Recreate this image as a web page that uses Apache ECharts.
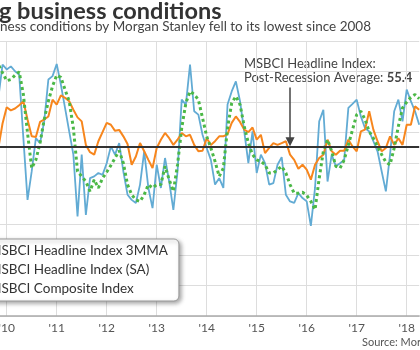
<!DOCTYPE html>
<html>
<head>
<meta charset="utf-8">
<script src="https://cdn.jsdelivr.net/npm/echarts@6/dist/echarts.min.js"></script>
<style>
  html, body { margin: 0; padding: 0; background: #fff; }
  #chart { width: 420px; height: 350px; }
</style>
</head>
<body>
<div id="chart"></div>
<script>
// monthly data, Oct 2009 .. Apr 2018
var firstYear = 2009, firstMonth = 10;

var headlineSA = [
  80.7, 71.4, 82.3, 80.7, 81.7, 80.1, 79.0, 58.2, 38.0, 47.3, 58.2, 56.6, 63.7,
  77.4, 78.5, 82.5, 75.7, 68.1, 60.4, 52.8, 32.6, 52.8, 33.1, 45.1, 45.7, 46.8,
  46.2, 50.0, 55.5, 52.8, 56.6, 47.3, 39.7, 38.0, 37.0, 43.0, 53.9, 41.9, 35.3,
  49.5, 41.9, 51.7, 44.0, 34.7, 47.3, 70.8, 69.2, 82.3, 67.0, 65.9, 59.3, 55.0,
  51.1, 43.0, 45.1, 41.9, 69.2, 73.5, 76.8, 70.3, 60.5, 50.0, 60.4, 46.8, 52.8,
  50.0, 43.0, 43.5, 49.5, 52.0, 39.7, 37.5, 37.0, 40.2, 38.6, 37.5, 29.5, 41.9,
  63.7, 67.5, 44.0, 52.8, 49.0, 50.0, 51.1, 68.1, 69.4, 70.8, 65.3, 61.5, 60.4,
  57.2, 53.9, 47.3, 40.8, 52.8, 67.0, 70.8, 63.7, 74.1, 70.3, 67.0, 62.6
];

var composite = [
  52.0, 55.0, 63.0, 68.3, 67.3, 67.9, 69.0, 70.3, 64.3, 58.8, 58.6, 63.5, 64.3,
  65.3, 70.8, 69.2, 72.2, 71.4, 70.3, 67.5, 65.0, 63.7, 56.0, 53.6, 52.8, 57.2,
  60.2, 63.2, 62.6, 60.6, 60.9, 58.8, 56.3, 49.5, 52.2, 56.6, 53.9, 51.1, 48.4,
  55.0, 57.7, 59.9, 58.2, 56.0, 57.7, 59.9, 58.8, 59.3, 56.0, 53.9, 54.1, 58.2,
  56.0, 57.2, 58.8, 58.8, 59.5, 63.2, 65.3, 63.5, 61.0, 60.2, 61.7, 57.7, 59.3,
  53.3, 55.0, 56.6, 56.0, 56.6, 57.2, 52.8, 51.1, 48.2, 49.5, 47.9, 44.6, 49.5,
  51.7, 52.8, 57.7, 53.9, 52.8, 54.1, 54.1, 57.7, 55.5, 53.9, 60.4, 61.0, 67.0,
  61.0, 57.2, 53.9, 55.0, 58.8, 56.0, 58.2, 56.0, 62.6, 62.6, 68.6, 67.5
];

var headline3MMA = [
  83.0, 82.3, 79.6, 77.0, 77.4, 78.8, 79.9, 72.5, 59.9, 48.4, 51.1, 56.6, 64.3,
  70.3, 75.2, 78.8, 78.1, 74.1, 70.3, 61.5, 47.3, 45.7, 44.0, 40.8, 44.6, 41.9,
  45.1, 47.1, 49.3, 51.7, 54.1, 50.0, 43.0, 39.7, 38.0, 37.5, 39.7, 43.0, 41.9,
  43.0, 43.0, 49.0, 44.6, 40.8, 49.5, 61.5, 69.7, 73.5, 72.5, 70.8, 64.8, 58.8,
  55.0, 50.6, 45.7, 48.4, 61.5, 69.7, 71.9, 69.2, 62.1, 56.6, 52.8, 51.1, 50.6,
  49.5, 46.8, 46.8, 47.9, 49.0, 46.8, 43.0, 40.2, 40.2, 40.5, 39.5, 37.5, 34.8,
  45.1, 53.9, 57.7, 53.9, 49.0, 48.4, 51.1, 56.0, 61.0, 65.9, 67.0, 64.3, 60.4,
  58.2, 55.5, 52.8, 50.4, 49.5, 55.0, 62.1, 68.1, 70.0, 71.6, 72.5, 71.1
];

var yearTicks = ['2010-01', '2011-01', '2012-01', '2013-01', '2014-01', '2015-01', '2016-01', '2017-01', '2018-01'];
var yearLabels = ["'10", "'11", "'12", "'13", "'14", "'15", "'16", "'17", "'18"];

var postRecessionAvg = 55.4;
var arrowMonth = '2015-09';

var months = [];
for (var i = 0; i < headlineSA.length; i++) {
  var y = firstYear + Math.floor((firstMonth - 1 + i) / 12);
  var m = (firstMonth - 1 + i) % 12 + 1;
  months.push(y + '-' + (m < 10 ? '0' + m : m));
}

function isYearTick(idx, val) {
  return yearTicks.indexOf(val) >= 0;
}

var chart = echarts.init(document.getElementById('chart'));

var option = {
  animation: false,
  backgroundColor: '#fff',
  textStyle: { fontFamily: 'Lato' },
  grid: {
    left: -5.8,
    right: 0.8,
    top: 41,
    bottom: 34,
    containLabel: false,
    outerBoundsMode: 'none'
  },
  legend: {
    orient: 'vertical',
    left: -47,
    top: 239,
    data: ['MSBCI Headline Index 3MMA', 'MSBCI Headline Index (SA)', 'MSBCI Composite Index'],
    itemWidth: 20,
    itemHeight: 3,
    itemGap: 1,
    padding: [3, 11, 3, 10],
    backgroundColor: '#fff',
    borderColor: '#999',
    borderWidth: 1,
    borderRadius: 5,
    shadowBlur: 4,
    shadowColor: 'rgba(0,0,0,0.35)',
    shadowOffsetX: 2,
    shadowOffsetY: 2,
    textStyle: { fontSize: 13.5, color: '#333', fontFamily: 'Lato', lineHeight: 18 }
  },
  xAxis: {
    type: 'category',
    data: months,
    boundaryGap: false,
    axisLine: { lineStyle: { color: '#aaa', width: 1.5 } },
    axisTick: { show: false },
    axisLabel: {
      interval: isYearTick,
      formatter: function (val) { return yearLabels[yearTicks.indexOf(val)]; },
      color: '#555',
      fontSize: 12,
      margin: 6
    },
    splitLine: {
      show: true,
      interval: isYearTick,
      lineStyle: { color: '#ddd', width: 1 }
    }
  },
  yAxis: {
    type: 'value',
    min: 0,
    max: 90,
    interval: 10,
    axisLine: { show: false },
    axisTick: { show: false },
    axisLabel: { show: false },
    splitLine: { lineStyle: { color: '#ddd', width: 1 } }
  },
  series: [
    {
      name: 'MSBCI Headline Index (SA)',
      type: 'line',
      data: headlineSA,
      showSymbol: false,
      lineStyle: { color: '#62abd4', width: 1.8 },
      itemStyle: { color: '#62abd4' },
      markLine: {
        silent: true,
        symbol: ['none', 'none'],
        label: { show: false },
        lineStyle: { color: '#333', width: 2, type: 'solid' },
        data: [{ yAxis: postRecessionAvg }]
      }
    },
    {
      name: 'MSBCI Composite Index',
      type: 'line',
      data: composite,
      showSymbol: false,
      lineStyle: { color: '#f7861d', width: 2 },
      itemStyle: { color: '#f7861d' }
    },
    {
      name: 'MSBCI Headline Index 3MMA',
      type: 'line',
      data: headline3MMA,
      showSymbol: false,
      lineStyle: { color: '#4bb846', width: 3, type: [3, 3] },
      itemStyle: { color: '#4bb846' },
      markLine: {
        silent: true,
        symbol: ['none', 'triangle'],
        symbolSize: [9, 9],
        label: { show: false },
        lineStyle: { color: '#444', width: 1.5, type: 'solid' },
        data: [[{ coord: [arrowMonth, 74.8] }, { coord: [arrowMonth, 57] }]]
      }
    }
  ],
  graphic: [
    {
      type: 'text', left: -1, top: -1,
      style: { text: 'g business conditions', font: 'bold 23.5px Lato', fill: '#333' }
    },
    {
      type: 'text', left: 0, top: 20,
      style: { text: 'ness conditions by Morgan Stanley fell to its lowest since 2008', font: '13.5px Lato', fill: '#444' }
    },
    {
      type: 'text', left: 244, top: 57,
      style: {
        text: '{a|MSBCI Headline Index:}\n{a|Post-Recession Average: }{b|55.4}',
        rich: {
          a: { font: '13px Lato', fill: '#444', lineHeight: 14 },
          b: { font: 'bold 13px Lato', fill: '#444', lineHeight: 14 }
        }
      }
    },
    {
      type: 'text', left: 362, top: 337,
      style: { text: 'Source: Morgan Stanley', font: '11px Lato', fill: '#555' }
    }
  ]
};

chart.setOption(option);
</script>
</body>
</html>
